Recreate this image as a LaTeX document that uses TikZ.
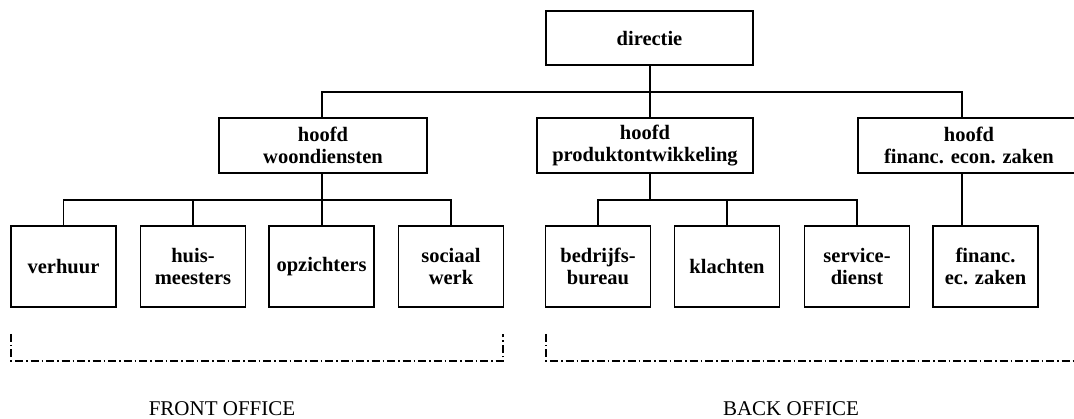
\documentclass[tikz,border=0pt]{standalone}
\usepackage{fontspec}
\setmainfont{Liberation Serif}
\begin{document}
\begin{tikzpicture}[x=1pt,y=-1pt,
  line width=1.3pt,
  box/.style={draw,rectangle,inner sep=0pt,align=center,font=\bfseries\fontsize{20.5}{22}\selectfont},
  topbox/.style={box,minimum height=54pt},
  unitbox/.style={box,minimum width=105pt,minimum height=81pt},
  link/.style={draw,line width=1.3pt},
  group/.style={draw,line width=1.1pt,dash pattern=on 8pt off 3pt on 1.5pt off 3pt},
  office/.style={inner sep=0pt,anchor=base,font=\fontsize{21}{24}\selectfont}]
\useasboundingbox (0,0) rectangle (1074,419);
\clip (0,0) rectangle (1074,419);
% level 1
\node[topbox,minimum width=207pt] (dir) at (649.5,38) {directie};
% level 2
\node[topbox,minimum width=208pt,minimum height=55pt] (hw) at (323,145.5) {hoofd\\woondiensten};
\node[topbox,minimum width=216pt,minimum height=55pt] (hp) at (645,145.5) {hoofd\\produktontwikkeling};
\node[topbox,minimum width=222pt,minimum height=55pt] (hf) at (969,145.5) {hoofd\\financ. econ. zaken};
% level 3
\node[unitbox] (ver) at (63.5,266.5) {verhuur};
\node[unitbox] (hui) at (193,266.5) {huis-\\meesters};
\node[unitbox] (opz) at (321.5,266.5) {opzichters};
\node[unitbox] (soc) at (451,266.5) {sociaal\\werk};
\node[unitbox] (bed) at (598,266.5) {bedrijfs-\\bureau};
\node[unitbox] (kla) at (727,266.5) {klachten};
\node[unitbox] (ser) at (857,266.5) {service-\\dienst};
\node[unitbox] (fin) at (985.5,266.5) {financ.\\ec. zaken};
% bus coordinates
\coordinate (b1) at (650,92);
\coordinate (b2) at (322,200);
\coordinate (b3) at (650,200);
\coordinate (b4) at (962,200);
% directie -> hoofden
\draw[link] (dir.south -| b1) -- (b1);
\draw[link] (hw.north -| b2) |- (b1);
\draw[link] (b1) -- (hp.north -| b1);
\draw[link] (b1) -| (hf.north -| b4);
% woondiensten -> units
\draw[link] (hw.south -| b2) -- (opz.north -| b2);
\draw[link] (ver.north) |- (b2);
\draw[link] (hui.north) |- (b2);
\draw[link] (b2) -| (soc.north);
% produktontwikkeling -> units
\draw[link] (hp.south -| b3) -- (b3);
\draw[link] (bed.north) |- (b3);
\draw[link] (b3) -| (ser.north);
\draw[link] (kla.north) -- (kla.north |- b3);
% financ -> unit
\draw[link] (hf.south -| b4) -- (fin.north -| b4);
% groups
\coordinate (f1) at (11,334);
\coordinate (f2) at (503,334);
\coordinate (k1) at (546,334);
\coordinate (k2) at (1080,361);
\draw[group] (f1) |- (f2 |- k2) -- (f2);
\draw[group] (k1) |- (k2);
\node[office] (fo) at (222,416) {FRONT OFFICE};
\node[office] (bo) at (791,416) {BACK OFFICE};
\end{tikzpicture}
\end{document}
